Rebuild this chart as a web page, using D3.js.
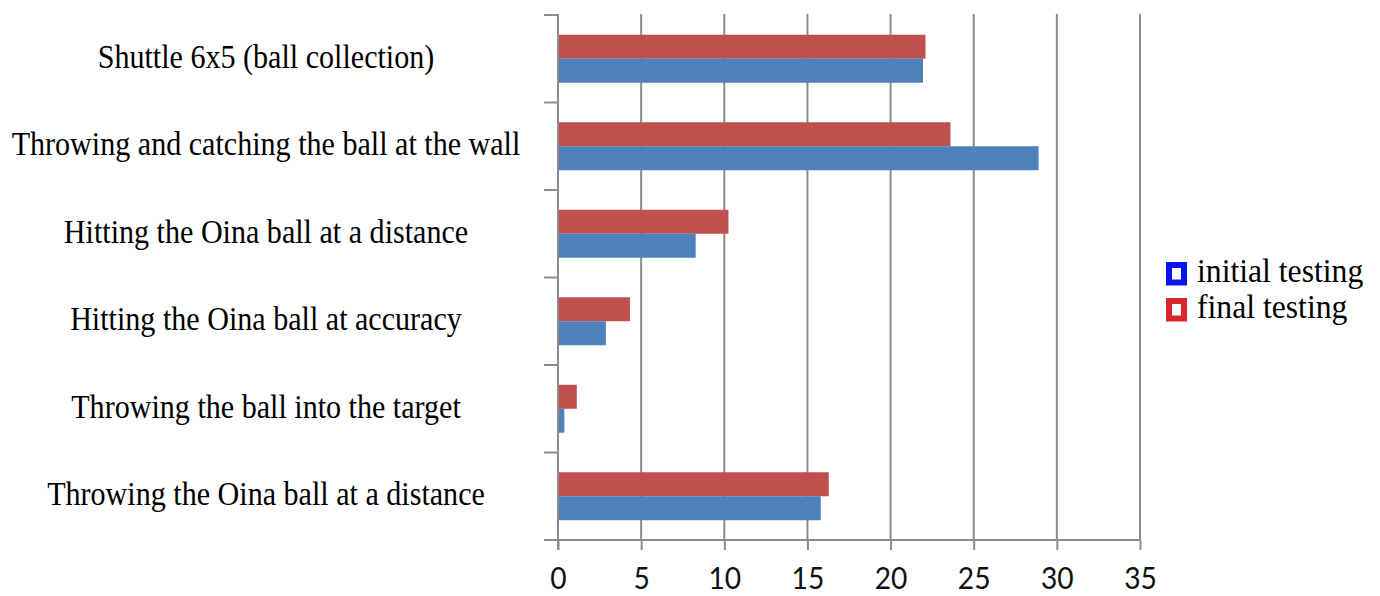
<!DOCTYPE html>
<html>
<head>
<meta charset="utf-8">
<script src="https://cdn.jsdelivr.net/npm/d3@7"></script>
<style>
  html, body { margin: 0; padding: 0; background: #fff; }
  svg { display: block; }
</style>
</head>
<body>
<svg id="chart" width="1380" height="596"></svg>
<script>
// Test names, top to bottom
const categories = [
  "Shuttle 6x5 (ball collection)",
  "Throwing and catching the ball at the wall",
  "Hitting the Oina ball at a distance",
  "Hitting the Oina ball at accuracy",
  "Throwing the ball into the target",
  "Throwing the Oina ball at a distance"
];
const initialTesting = [21.95, 28.9, 8.28, 2.88, 0.38, 15.8];
const finalTesting   = [22.1, 23.6, 10.25, 4.33, 1.13, 16.28];
const xTicks = [0, 5, 10, 15, 20, 25, 30, 35];

const seriesNames = ["final testing", "initial testing"];
const seriesValues = { "initial testing": initialTesting, "final testing": finalTesting };
const barColor = { "initial testing": "#4F81BD", "final testing": "#C0504D" };
const legendColor = { "initial testing": "#0A14F0", "final testing": "#D9262B" };

const svg = d3.select("#chart");
const gridColor = "#8c8c8c";
const serif = "'Liberation Serif', 'Times New Roman', serif";

const x = d3.scaleLinear().domain([0, 35]).range([558, 1140]);
const y = d3.scaleBand().domain(categories).range([15, 540]).paddingInner(0).paddingOuter(0);
const ySub = d3.scaleBand().domain(seriesNames).range([0, y.bandwidth()]).paddingInner(0).paddingOuter(0.823);

// vertical gridlines
svg.append("g").selectAll("line").data(xTicks.slice(1)).join("line")
  .attr("x1", d => x(d)).attr("x2", d => x(d))
  .attr("y1", 14).attr("y2", 540)
  .attr("stroke", gridColor).attr("stroke-width", 2);

// bars
const rows = categories.map((c, i) => ({ c, i }));
const groups = svg.append("g").selectAll("g").data(rows).join("g")
  .attr("transform", d => `translate(0,${y(d.c)})`);
groups.selectAll("rect")
  .data(d => seriesNames.map(s => ({ s, v: seriesValues[s][d.i] })))
  .join("rect")
  .attr("x", x(0))
  .attr("y", d => ySub(d.s))
  .attr("width", d => x(d.v) - x(0))
  .attr("height", ySub.bandwidth())
  .attr("fill", d => barColor[d.s]);

// category axis (left) with ticks between groups
const yEdges = categories.map(c => y(c)).concat([y.range()[1]]);
svg.append("line")
  .attr("x1", x(0)).attr("x2", x(0)).attr("y1", 14).attr("y2", 550)
  .attr("stroke", gridColor).attr("stroke-width", 2);
svg.append("g").selectAll("line").data(yEdges).join("line")
  .attr("x1", 544).attr("x2", x(0))
  .attr("y1", d => d).attr("y2", d => d)
  .attr("stroke", gridColor).attr("stroke-width", 2);

// value axis (bottom)
const xAxis = d3.axisBottom(x).tickValues(xTicks).tickSize(10).tickFormat(d3.format("d"));
const gx = svg.append("g").attr("transform", "translate(0,540)").call(xAxis);
gx.select(".domain").attr("stroke", gridColor).attr("stroke-width", 2).attr("d", `M${x(0)},0H${x(35)}`);
gx.selectAll(".tick line").attr("stroke", gridColor).attr("stroke-width", 2);
gx.selectAll(".tick text")
  .attr("y", 0).attr("dy", null)
  .attr("transform", "translate(0,49) scale(0.94,1)")
  .attr("fill", "#111")
  .style("font-family", "Lato, 'Open Sans', sans-serif")
  .style("font-size", "30px");

// category labels, centered in the label column
svg.append("g").selectAll("text").data(categories).join("text")
  .attr("transform", d => `translate(266,${y(d) + y.bandwidth() / 2 + 9}) scale(0.885,1)`)
  .attr("text-anchor", "middle")
  .style("font-family", serif)
  .style("font-size", "34px")
  .attr("fill", "#000")
  .text(d => d);

// legend
const legendItems = ["initial testing", "final testing"];
const lg = svg.append("g").selectAll("g").data(legendItems).join("g")
  .attr("transform", (d, i) => `translate(1166,${262 + i * 36})`);
lg.append("rect")
  .attr("x", 3).attr("y", 3).attr("width", 15).attr("height", 17.5)
  .attr("fill", "#fff")
  .attr("stroke", d => legendColor[d]).attr("stroke-width", 6);
lg.append("text")
  .attr("transform", "translate(31,20) scale(0.96,1)")
  .style("font-family", serif)
  .style("font-size", "33px")
  .attr("fill", "#000")
  .text(d => d);
</script>
</body>
</html>
